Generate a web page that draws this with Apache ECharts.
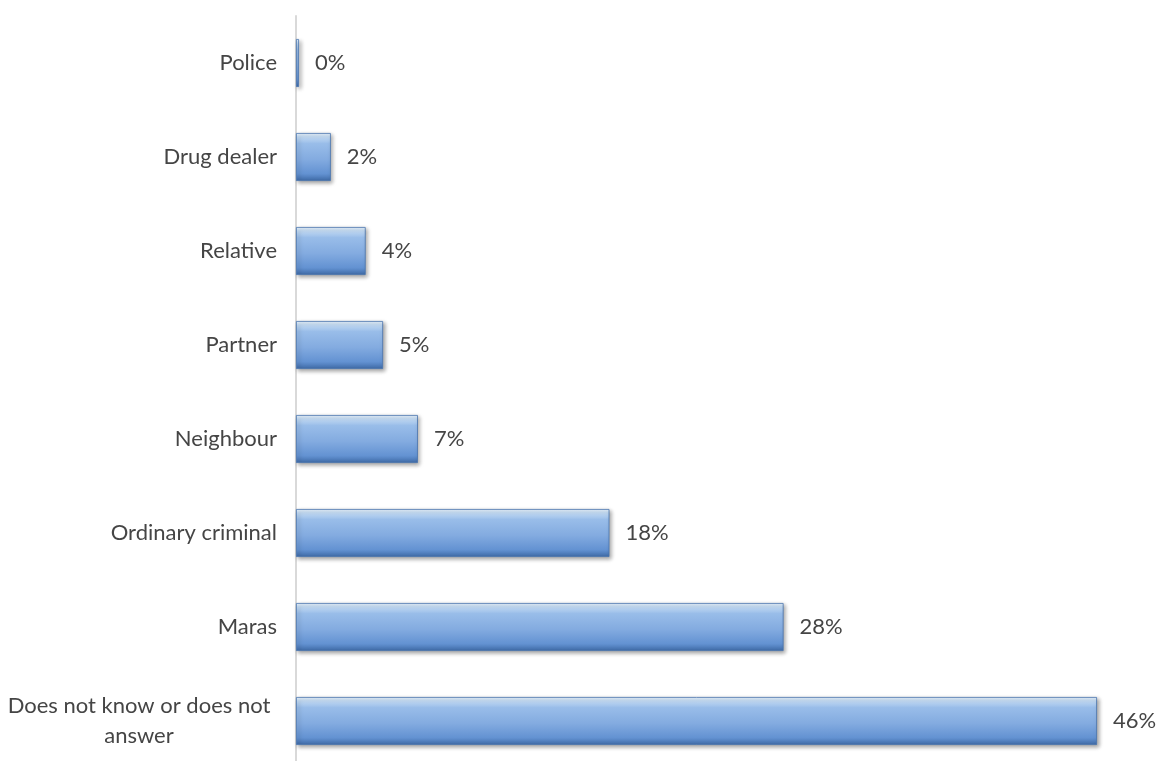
<!DOCTYPE html>
<html>
<head>
<meta charset="utf-8">
<script src="https://cdn.jsdelivr.net/npm/echarts@6/dist/echarts.min.js"></script>
<style>
  html, body { margin: 0; padding: 0; background: #ffffff; }
  #chart { width: 1160px; height: 761px; }
</style>
</head>
<body>
<div id="chart"></div>
<script>
// Perpetrators named by respondents (share of answers, %)
const categories = [
  'Police',
  'Drug dealer',
  'Relative',
  'Partner',
  'Neighbour',
  'Ordinary criminal',
  'Maras',
  'Does not know or does not answer'
];
const shares = [0, 2, 4, 5, 7, 18, 28, 46];

const textFont = 'Lato, "Open Sans", sans-serif';
const textColor = '#454545';

const chart = echarts.init(document.getElementById('chart'));

// bevelled blue fill: bright rim at the top, darker toward the bottom edge
const barFill = new echarts.graphic.LinearGradient(0, 0, 0, 1, [
  { offset: 0.00, color: '#eaf4fd' },
  { offset: 0.08, color: '#c3dbf4' },
  { offset: 0.22, color: '#99bde9' },
  { offset: 0.55, color: '#83abe0' },
  { offset: 0.85, color: '#6392d2' },
  { offset: 1.00, color: '#3e6aa6' }
]);

chart.setOption({
  animation: false,
  grid: {
    left: 296, right: 63, top: 16, bottom: -7,
    containLabel: false,
    outerBoundsMode: 'none'
  },
  xAxis: {
    type: 'value',
    min: 0,
    max: 46,
    show: false
  },
  yAxis: {
    type: 'category',
    data: categories,
    inverse: true,
    axisLine: { show: true, lineStyle: { color: '#d9d9d9', width: 2 } },
    axisTick: { show: false },
    axisLabel: {
      margin: 19,
      color: textColor,
      fontFamily: textFont,
      fontSize: 22,
      formatter: function (v) {
        if (v === 'Does not know or does not answer') {
          return '{c|Does not know or does not}\n{c|answer}';
        }
        return v;
      },
      rich: {
        c: {
          width: 276,
          align: 'center',
          lineHeight: 30,
          color: textColor,
          fontFamily: textFont,
          fontSize: 22
        }
      }
    }
  },
  series: [{
    type: 'bar',
    data: shares,
    barWidth: 48,
    barMinHeight: 3,
    itemStyle: {
      color: barFill,
      borderColor: '#4874ae',
      borderWidth: 0.8,
      shadowColor: 'rgba(0,0,0,0.35)',
      shadowBlur: 4,
      shadowOffsetX: 2,
      shadowOffsetY: 2
    },
    label: {
      show: true,
      position: 'right',
      distance: 16,
      color: textColor,
      fontFamily: textFont,
      fontSize: 22,
      formatter: '{c}%'
    }
  }]
});
</script>
</body>
</html>
